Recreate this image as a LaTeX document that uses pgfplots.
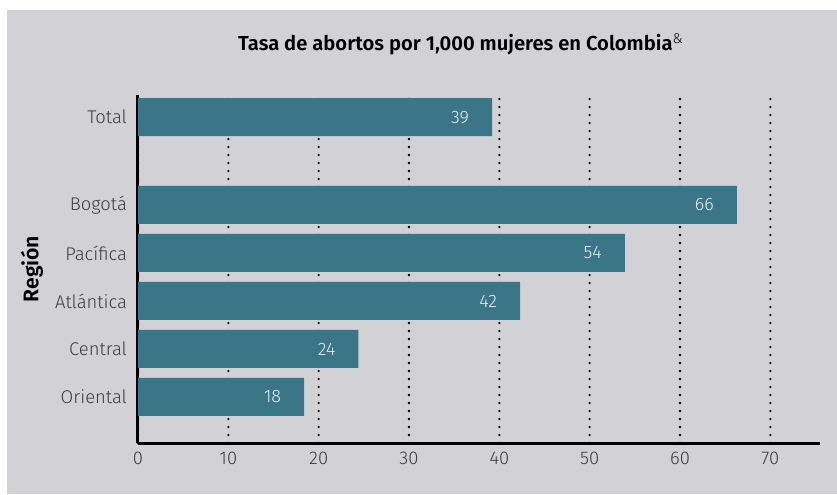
\documentclass[border=0pt]{standalone}
\usepackage{fontspec}
\setmainfont{Fira Sans}[UprightFont={* Light},BoldFont={* SemiBold}]
\usepackage{pgfplots}
\pgfplotsset{compat=1.18}
\definecolor{bggray}{HTML}{D2D1D6}
\definecolor{barteal}{HTML}{3A7688}
\definecolor{ticktext}{HTML}{3C3C3C}
\definecolor{labwhite}{HTML}{ECECF0}
\begin{document}
\begin{tikzpicture}
\fill[white] (-69pt,-25.5pt) rectangle (349.5pt,221.5pt);
\fill[bggray] (-65.5pt,-25.5pt) rectangle (349.5pt,216.5pt);
\begin{axis}[
  at={(0,0)}, anchor=south west,
  scale only axis, width=341pt, height=174pt,
  xmin=0, xmax=75.5, ymin=-0.96, ymax=6.29,
  xbar, bar width=19pt,
  axis x line=bottom, axis y line=left,
  axis line style={line width=1.5pt, -},
  xtick={0,10,...,70},
  ytick={0,1,2,3,4,5.83},
  yticklabels={Oriental,Central,Atlántica,Pacífica,Bogotá,Total},
  major tick length=0pt,
  xmajorgrids,
  grid style={black, line width=1.3pt, line cap=round, dash pattern=on 0pt off 4pt},
  /pgf/number format/assume math mode=true,
  tick label style={font=\fontsize{9.2}{10}\selectfont, text=ticktext},
  xticklabel style={yshift=-1pt},
  yticklabel style={xshift=-2pt},
  ylabel={\textbf{Región}},
  every axis y label/.style={at={(axis description cs:-0.1554,0.5)}, anchor=center, rotate=90, font=\fontsize{10.6}{12}\selectfont},
  title={\textbf{Tasa de abortos por 1,000 mujeres en Colombia}\textsuperscript{\&}},
  title style={at={(axis description cs:0.5,1)}, anchor=center, xshift=-9pt, yshift=19.5pt, font=\fontsize{10.1}{12}\selectfont},
  point meta=explicit symbolic,
  nodes near coords,
  every node near coord/.append style={anchor=east, xshift=-8pt, text=labwhite, font=\fontsize{9}{10}\selectfont},
  clip=false,
]
\addplot[fill=barteal, draw=none] coordinates {
  (18.4,0) [18]
  (24.4,1) [24]
  (42.3,2) [42]
  (53.9,3) [54]
  (66.3,4) [66]
  (39.2,5.83) [39]
};
\end{axis}
\pgfresetboundingbox
\useasboundingbox (-69pt,-25.5pt) rectangle (349.5pt,221.5pt);
\end{tikzpicture}
\end{document}
